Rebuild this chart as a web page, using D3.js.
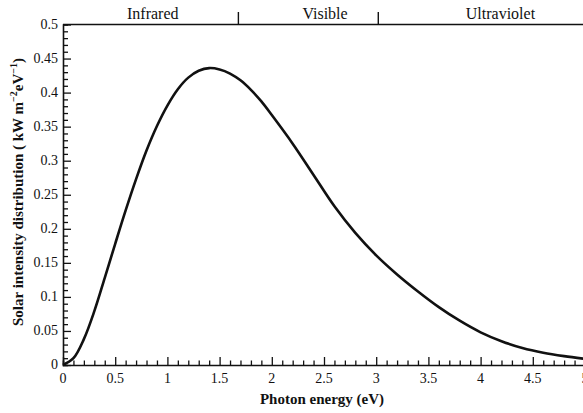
<!DOCTYPE html>
<html>
<head>
<meta charset="utf-8">
<script src="https://cdn.jsdelivr.net/npm/d3@7"></script>
<style>
  body { margin: 0; background: #fff; }
  svg { display: block; }
  text { font-family: "Liberation Serif", "DejaVu Serif", serif; fill: #111; }
  .bold { font-weight: bold; }
</style>
</head>
<body>
<svg id="chart" width="583" height="413"></svg>
<script>
// photon energy (eV) and solar intensity (kW m^-2 eV^-1)
const energy = [0, 0.1, 0.2, 0.3, 0.4, 0.5, 0.6, 0.7, 0.8, 0.9, 1.0, 1.1, 1.2, 1.3, 1.4, 1.5, 1.6, 1.7, 1.8, 1.9,
    2.0, 2.2, 2.4, 2.6, 2.8, 3.0, 3.2, 3.4, 3.6, 3.8, 4.0, 4.2, 4.4, 4.6, 4.8, 5.0]
const intensity = [0, 0.010, 0.038, 0.079, 0.128, 0.178, 0.227, 0.273, 0.315, 0.351, 0.381, 0.405, 0.422, 0.432, 0.436, 0.434, 0.428, 0.418, 0.404, 0.387,
    0.367, 0.325, 0.279, 0.233, 0.194, 0.161, 0.133, 0.108, 0.085, 0.065, 0.048, 0.035, 0.025, 0.018, 0.013, 0.009]

const xTicks = [0, 0.5, 1, 1.5, 2, 2.5, 3, 3.5, 4, 4.5, 5]
const yTicks = [0, 0.05, 0.1, 0.15, 0.2, 0.25, 0.3, 0.35, 0.4, 0.45, 0.5]

// spectral bands along the top edge
const bandNames = ["Infrared", "Visible", "Ultraviolet"]
const bandCentres = [0.86, 2.51, 4.19]
const bandEdges = [1.68, 3.02]

const svg = d3.select("#chart")
const margin = { left: 63, top: 24.5, right: -2, bottom: 48 }
const W = +svg.attr("width"), H = +svg.attr("height")

const x = d3.scaleLinear().domain([0, 5]).range([margin.left, W - margin.right])
const y = d3.scaleLinear().domain([0, 0.5]).range([H - margin.bottom, margin.top])

/* bottom axis: ticks point inward */
const xAxis = svg.append("g").attr("transform", `translate(0,${y(0)})`)
xAxis.call(d3.axisBottom(x).tickValues(d3.range(0, 50).map(i => i / 10)).tickSize(-4.5).tickFormat(""))
xAxis.call(g => g.selectAll(".tick").filter(d => Math.abs(d * 2 - Math.round(d * 2)) < 1e-6)
    .select("line").attr("y2", -8))
xAxis.selectAll("line, path").attr("stroke", "#111").attr("stroke-width", 1.3)
xAxis.select("path").attr("stroke-width", 1.6)

svg.append("g").selectAll("text").data(xTicks).join("text")
    .attr("x", d => x(d)).attr("y", y(0) + 18)
    .attr("text-anchor", "middle").attr("font-size", 14)
    .text(d => d)

/* left axis */
const yAxis = svg.append("g").attr("transform", `translate(${x(0)},0)`)
yAxis.call(d3.axisLeft(y).tickValues(d3.range(0, 51).map(i => i / 100)).tickSize(-5).tickFormat(""))
yAxis.call(g => g.selectAll(".tick").filter(d => Math.abs(d * 20 - Math.round(d * 20)) < 1e-6)
    .select("line").attr("x2", 8))
yAxis.selectAll("line, path").attr("stroke", "#111").attr("stroke-width", 1.3)
yAxis.select("path").attr("stroke-width", 1.6)

svg.append("g").selectAll("text").data(yTicks).join("text")
    .attr("x", x(0) - 5).attr("y", d => y(d) + 4)
    .attr("text-anchor", "end").attr("font-size", 14)
    .text(d => d)

/* top edge with band dividers */
svg.append("line")
    .attr("x1", x(0)).attr("x2", W).attr("y1", y(0.5)).attr("y2", y(0.5))
    .attr("stroke", "#111").attr("stroke-width", 1.6)

svg.append("g").selectAll("line").data(bandEdges).join("line")
    .attr("x1", d => x(d)).attr("x2", d => x(d))
    .attr("y1", y(0.5)).attr("y2", y(0.5) - 12.5)
    .attr("stroke", "#111").attr("stroke-width", 1.4)

svg.append("g").selectAll("text").data(bandNames).join("text")
    .attr("x", (d, i) => x(bandCentres[i])).attr("y", 19)
    .attr("text-anchor", "middle").attr("font-size", 16)
    .text(d => d)

/* the spectrum */
const line = d3.line()
    .x((d, i) => x(energy[i]))
    .y(d => y(d))
    .curve(d3.curveCatmullRom)

svg.append("path")
    .datum(intensity)
    .attr("d", line)
    .attr("fill", "none")
    .attr("stroke", "#111")
    .attr("stroke-width", 2.6)

/* axis titles */
svg.append("text").attr("class", "bold")
    .attr("x", 322).attr("y", 404)
    .attr("text-anchor", "middle").attr("font-size", 15)
    .text("Photon energy (eV)")

const yTitle = svg.append("text").attr("class", "bold")
    .attr("transform", "translate(23,192) rotate(-90)")
    .attr("text-anchor", "middle").attr("font-size", 15)
yTitle.append("tspan").text("Solar intensity distribution ( kW m")
yTitle.append("tspan").attr("font-size", 10).attr("dy", -6).text("\u22122")
yTitle.append("tspan").attr("dy", 6).text("eV")
yTitle.append("tspan").attr("font-size", 10).attr("dy", -6).text("\u22121")
yTitle.append("tspan").attr("dy", 6).text(")")
</script>
</body>
</html>
